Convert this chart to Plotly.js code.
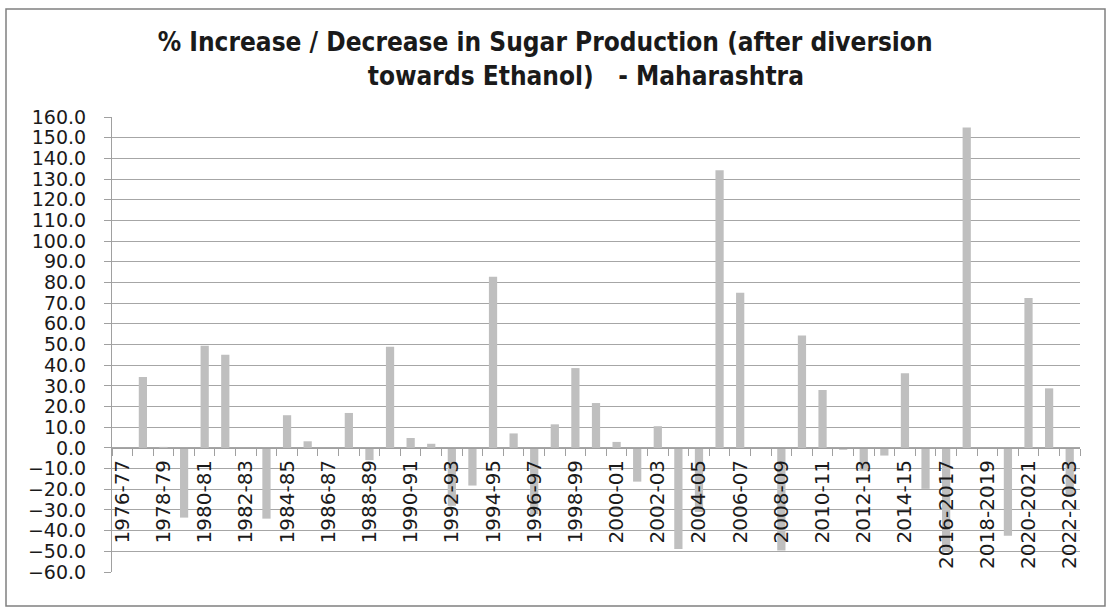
<!DOCTYPE html>
<html>
<head>
<meta charset="utf-8">
<script src="https://cdn.plot.ly/plotly-3.0.1.min.js"></script>
<style>
  html, body { margin: 0; padding: 0; background: #ffffff; }
  #chart { width: 1108px; height: 610px; }
</style>
</head>
<body>
<div id="chart"></div>
<script>
// Crop seasons (categories)
const seasons = [
  "1976-77","1977-78","1978-79","1979-80","1980-81","1981-82","1982-83","1983-84",
  "1984-85","1985-86","1986-87","1987-88","1988-89","1989-90","1990-91","1991-92",
  "1992-93","1993-94","1994-95","1995-96","1996-97","1997-98","1998-99","1999-00",
  "2000-01","2001-02","2002-03","2003-04","2004-05","2005-06","2006-07","2007-08",
  "2008-09","2009-10","2010-11","2011-12","2012-13","2013-14","2014-15","2015-16",
  "2016-2017","2017-2018","2018-2019","2019-2020","2020-2021","2021-2022","2022-2023"
];

// % increase / decrease in sugar production
const pctChange = [
  null, 34.3, 0.5, -33.7, 49.4, 45.0, 0, -34.2,
  15.8, 3.2, 0, 16.9, -5.9, 48.9, 4.8, 2.0,
  -28.0, -18.2, 82.8, 7.0, -32.0, 11.4, 38.6, 21.7,
  2.9, -16.3, 10.5, -48.9, -31.0, 134.3, 75.0, 0,
  -49.6, 54.3, 28.0, -0.9, -11.0, -3.7, 36.1, -19.8,
  -50.0, 154.9, 0, -42.5, 72.5, 28.8, -23.0
];

// Every other season is labelled on the axis
const tickText = seasons.map((s, i) => (i % 2 === 0 ? s : ""));

const NB = "\u00a0";
const titleText = "% Increase / Decrease in Sugar Production (after diversion<br>" +
  NB.repeat(10) + "towards Ethanol)" + NB.repeat(3) + "- Maharashtra";

const trace = {
  type: "bar",
  x: seasons,
  y: pctChange,
  marker: { color: "#bfbfbf" },
  hoverinfo: "x+y"
};

const W = 1108, H = 610;
const L = 112, R = 28, T = 117, B = 38;
const pw = W - L - R, ph = H - T - B;
const px = v => (v - L) / pw;
const py = v => (H - B - v) / ph;

const layout = {
  width: W,
  height: H,
  margin: { l: L, r: R, t: T, b: B, pad: 0 },
  paper_bgcolor: "#ffffff",
  plot_bgcolor: "#ffffff",
  showlegend: false,
  bargap: 0.6,
  font: { family: "DejaVu Sans, sans-serif", color: "#1a1a1a" },
  title: {
    text: titleText,
    font: { family: "DejaVu Sans Condensed, Roboto, sans-serif", size: 26, color: "#1a1a1a", weight: "bold" },
    x: 0.492, xref: "container", xanchor: "center",
    y: 1 - 51 / H, yref: "container", yanchor: "top"
  },
  xaxis: {
    type: "category",
    anchor: "free",
    position: 60 / 220,
    tickmode: "array",
    tickvals: seasons,
    ticktext: tickText,
    tickson: "boundaries",
    ticks: "outside",
    ticklen: 7,
    tickcolor: "#a0a0a0",
    tickwidth: 1,
    tickangle: -90,
    tickfont: { family: "DejaVu Sans, sans-serif", size: 20, color: "#1a1a1a" },
    ticklabelstandoff: 3,
    showline: true,
    linecolor: "#a0a0a0",
    linewidth: 1,
    showgrid: false,
    zeroline: false,
    fixedrange: true
  },
  yaxis: {
    range: [-60, 160],
    tickmode: "linear",
    tick0: -60,
    dtick: 10,
    tickformat: ".1f",
    ticks: "outside",
    ticklen: 7,
    tickcolor: "#a0a0a0",
    tickfont: { family: "DejaVu Sans, sans-serif", size: 19, color: "#1a1a1a" },
    ticklabelstandoff: 14,
    showline: true,
    linecolor: "#a0a0a0",
    linewidth: 1,
    showgrid: true,
    gridcolor: "#a6a6a6",
    gridwidth: 1,
    zeroline: true,
    zerolinecolor: "#a6a6a6",
    zerolinewidth: 1,
    fixedrange: true
  },
  shapes: [{
    type: "rect",
    xref: "paper", yref: "paper",
    x0: px(6), x1: px(1105), y0: py(606), y1: py(9),
    line: { color: "#808080", width: 1.5 },
    fillcolor: "rgba(0,0,0,0)",
    layer: "below"
  }]
};

Plotly.newPlot("chart", [trace], layout, { displayModeBar: false, staticPlot: true });
</script>
</body>
</html>
